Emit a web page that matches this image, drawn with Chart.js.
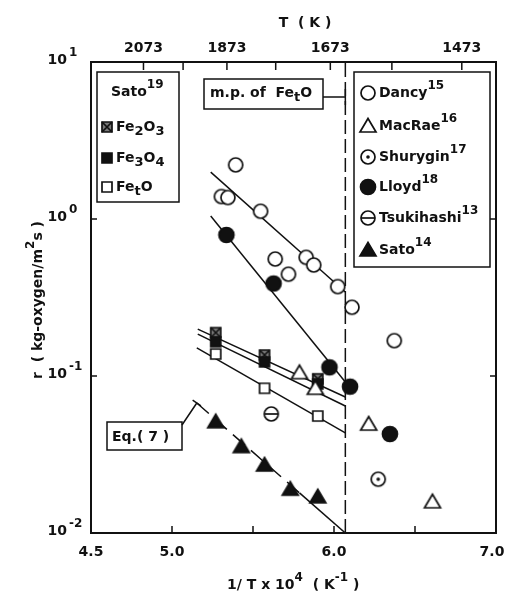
<!DOCTYPE html>
<html>
<head>
<meta charset="utf-8">
<script src="https://cdn.jsdelivr.net/npm/chart.js@4.4.0/dist/chart.umd.min.js"></script>
<style>
  body { margin: 0; background: #fff; }
  #wrap { width: 507px; height: 602px; }
</style>
</head>
<body>
<div id="wrap"><canvas id="grafico"></canvas></div>
<script>
// valores (x = 1/T x 10^4, r em kg-oxygen/m2s)
const dancyX = [5.393, 5.305, 5.345, 5.547, 5.637, 5.719, 5.828, 5.875, 6.023, 6.111, 6.372];
const dancyR = [2.21, 1.39, 1.37, 1.12, 0.556, 0.445, 0.570, 0.509, 0.371, 0.274, 0.168];
const macraeX = [5.787, 5.885, 6.214, 6.608];
const macraeR = [0.105, 0.0835, 0.0494, 0.0158];
const shuryginX = [6.273];
const shuryginR = [0.022];
const lloydX = [5.336, 5.627, 5.972, 6.099, 6.345];
const lloydR = [0.791, 0.388, 0.1135, 0.0855, 0.0427];
const tsukihashiX = [5.613];
const tsukihashiR = [0.0573];
const sato14X = [5.270, 5.428, 5.571, 5.730, 5.900];
const sato14R = [0.0511, 0.0355, 0.0271, 0.0190, 0.0170];

const sato19X = [5.270, 5.571, 5.900];
const fe2o3R = [0.189, 0.136, 0.096];
const fe3o4R = [0.165, 0.123, 0.089];
const fetoR = [0.138, 0.0835, 0.0556];

// retas ajustadas
const dancyFitX = [5.239, 6.070];
const dancyFitR = [1.99, 0.343];
const lloydFitX = [5.239, 6.070];
const lloydFitR = [1.045, 0.0916];
const fe2o3FitX = [5.159, 6.070];
const fe2o3FitR = [0.199, 0.0735];
const fe3o4FitX = [5.159, 6.070];
const fe3o4FitR = [0.185, 0.0644];
const fetoFitX = [5.153, 6.070];
const fetoFitR = [0.151, 0.0434];
const eq7X = [5.153, 5.787];
const eq7R = [0.0673, 0.018];
const eq7ExtX = [5.787, 6.070];
const eq7ExtR = [0.018, 0.01];
const mpX = [6.07, 6.07];
const mpR = [0.01, 10];

// eixos
const xTicks = [5.0, 5.5, 6.0, 6.5];
const xLabels = ["4.5", "5.0", "6.0", "7.0"];
const yTicks = [1, 0.1];
const yLabels = ["1", "0", "-1", "-2"];
const tempTicks = [2073, 1973, 1873, 1773, 1673, 1573, 1473];
const tempLabels = [2073, 1873, 1673, 1473];

const FONTE = '"DejaVu Sans", sans-serif';
const PRETO = "#111";

function desenharMarcador(g, tipo, x, y) {
    g.save();
    g.strokeStyle = PRETO;
    g.fillStyle = "#fff";
    g.lineWidth = 1.7;
    g.beginPath();
    if (tipo.startsWith("circulo")) {
        const r = tipo === "circuloCheio" ? 7.5 : 7;
        g.arc(x, y, r, 0, Math.PI * 2);
    } else if (tipo.startsWith("triangulo")) {
        g.moveTo(x, y - 7.5);
        g.lineTo(x + 8, y + 6);
        g.lineTo(x - 8, y + 6);
        g.closePath();
    } else {
        g.rect(x - 5, y - 5, 10, 10);
    }
    if (tipo.endsWith("Cheio")) g.fillStyle = PRETO;
    if (tipo === "quadradoX") g.fillStyle = "#777";
    g.fill();
    g.stroke();

    g.fillStyle = PRETO;
    if (tipo === "circuloPonto") {
        g.beginPath();
        g.arc(x, y, 1.8, 0, Math.PI * 2);
        g.fill();
    }
    if (tipo === "circuloBarra") {
        g.beginPath();
        g.moveTo(x - 7, y);
        g.lineTo(x + 7, y);
        g.stroke();
    }
    if (tipo === "quadradoX") {
        g.beginPath();
        g.moveTo(x - 5, y - 5); g.lineTo(x + 5, y + 5);
        g.moveTo(x + 5, y - 5); g.lineTo(x - 5, y + 5);
        g.stroke();
    }
    g.restore();
}

function criarMarcador(tipo) {
    const c = document.createElement("canvas");
    c.width = 22;
    c.height = 22;
    desenharMarcador(c.getContext("2d"), tipo, 11, 11);
    return c;
}

const serie = (xs, ys) => xs.map((x, i) => ({ x, y: ys[i] }));

function pontos(label, xs, ys, tipo) {
    return {
        label,
        data: serie(xs, ys),
        pointStyle: criarMarcador(tipo),
        pointRadius: 7,
        pointHoverRadius: 7,
        showLine: false,
        order: 1
    };
}

function reta(label, xs, ys, tracejado) {
    return {
        label,
        data: serie(xs, ys),
        showLine: true,
        borderColor: PRETO,
        borderWidth: 1.5,
        borderDash: tracejado || [],
        pointRadius: 0,
        pointHoverRadius: 0,
        order: 2
    };
}

// texto com sobrescrito / subscrito
function textoRico(ctx, partes, x, y, tam) {
    let cx = x;
    partes.forEach(([t, tipo]) => {
        let dy = 0;
        let f = tam;
        if (tipo === "sup") { dy = -7; f = tam - 2; }
        if (tipo === "sub") { dy = 5; f = tam - 1; }
        ctx.font = "bold " + f + "px " + FONTE;
        ctx.fillText(t, cx, y + dy);
        cx += ctx.measureText(t).width;
    });
    return cx - x;
}

function larguraRica(ctx, partes, tam) {
    let w = 0;
    partes.forEach(([t, tipo]) => {
        let f = tam;
        if (tipo === "sup") f = tam - 2;
        if (tipo === "sub") f = tam - 1;
        ctx.font = "bold " + f + "px " + FONTE;
        w += ctx.measureText(t).width;
    });
    return w;
}

const eixos = {
    id: "eixos",
    afterDraw(chart) {
        const ctx = chart.ctx;
        const { left, right, top, bottom } = chart.chartArea;
        const sx = chart.scales.x, sy = chart.scales.y;
        ctx.save();
        ctx.strokeStyle = PRETO;
        ctx.fillStyle = PRETO;

        ctx.lineWidth = 2;
        ctx.strokeRect(left, top, right - left, bottom - top);

        ctx.lineWidth = 1.5;
        ctx.beginPath();
        xTicks.forEach(v => {
            const p = sx.getPixelForValue(v);
            ctx.moveTo(p, bottom); ctx.lineTo(p, bottom - 7);
        });
        tempTicks.forEach(t => {
            const p = sx.getPixelForValue(1e4 / t);
            ctx.moveTo(p, top); ctx.lineTo(p, top + 8);
        });
        yTicks.forEach(v => {
            const p = sy.getPixelForValue(v);
            ctx.moveTo(left, p); ctx.lineTo(left + 6, p);
            ctx.moveTo(right, p); ctx.lineTo(right - 6, p);
        });
        ctx.stroke();

        ctx.textBaseline = "middle";
        ctx.textAlign = "center";
        ctx.font = "bold 14px " + FONTE;
        xLabels.forEach(l => ctx.fillText(l, Math.min(sx.getPixelForValue(+l), 492), bottom + 19));
        tempLabels.forEach(t => ctx.fillText(String(t), sx.getPixelForValue(1e4 / t), top - 14));

        ctx.textAlign = "left";
        yLabels.forEach(e => {
            const p = sy.getPixelForValue(Math.pow(10, +e)) - 2;
            ctx.font = "bold 14px " + FONTE;
            const w = ctx.measureText("10").width;
            ctx.fillText("10", 67 - w, p);
            ctx.font = "bold 12px " + FONTE;
            ctx.fillText(e, 69, p - 7);
        });

        // titulos
        ctx.textAlign = "center";
        ctx.font = "bold 14px " + FONTE;
        ctx.fillText("T  ( K )", 305, 23);

        ctx.textAlign = "left";
        textoRico(ctx, [["1/ T x 10", "n"], ["4", "sup"], ["  ( K", "n"], ["-1", "sup"], [" )", "n"]], 227, 585, 14);

        ctx.save();
        ctx.translate(38, 300);
        ctx.rotate(-Math.PI / 2);
        const tituloY = [["r  ( kg-oxygen/m", "n"], ["2", "sup"], ["s )", "n"]];
        textoRico(ctx, tituloY, -larguraRica(ctx, tituloY, 14) / 2, 0, 14);
        ctx.restore();

        // legenda Sato19
        ctx.lineWidth = 1.5;
        ctx.fillStyle = "#fff";
        ctx.fillRect(97, 72, 82, 130);
        ctx.strokeRect(97, 72, 82, 130);
        ctx.fillStyle = PRETO;
        textoRico(ctx, [["Sato", "n"], ["19", "sup"]], 111, 92, 14);
        const itensSato19 = [
            ["quadradoX", [["Fe", "n"], ["2", "sub"], ["O", "n"], ["3", "sub"]], 127],
            ["quadradoCheio", [["Fe", "n"], ["3", "sub"], ["O", "n"], ["4", "sub"]], 158],
            ["quadrado", [["Fe", "n"], ["t", "sub"], ["O", "n"]], 187]
        ];
        itensSato19.forEach(([tipo, partes, y]) => {
            desenharMarcador(ctx, tipo, 107, y);
            ctx.fillStyle = PRETO;
            textoRico(ctx, partes, 116, y, 14);
        });

        // legenda direita
        ctx.fillStyle = "#fff";
        ctx.fillRect(354, 72, 136, 195);
        ctx.strokeRect(354, 72, 136, 195);
        const itens = [
            ["circulo", "Dancy", "15", 93],
            ["triangulo", "MacRae", "16", 126],
            ["circuloPonto", "Shurygin", "17", 157],
            ["circuloCheio", "Lloyd", "18", 187],
            ["circuloBarra", "Tsukihashi", "13", 218],
            ["trianguloCheio", "Sato", "14", 250]
        ];
        itens.forEach(([tipo, nome, ref, y]) => {
            desenharMarcador(ctx, tipo, 368, y);
            ctx.fillStyle = PRETO;
            textoRico(ctx, [[nome, "n"], [ref, "sup"]], 379, y, 14);
        });

        // m.p. of FetO
        const xmp = sx.getPixelForValue(mpX[0]);
        ctx.fillStyle = "#fff";
        ctx.fillRect(204, 79, 119, 30);
        ctx.strokeRect(204, 79, 119, 30);
        ctx.fillStyle = PRETO;
        textoRico(ctx, [["m.p. of  Fe", "n"], ["t", "sub"], ["O", "n"]], 210, 93, 14);
        ctx.beginPath();
        ctx.moveTo(323, 97); ctx.lineTo(xmp, 97);
        ctx.moveTo(xmp, 89); ctx.lineTo(xmp, 105);
        ctx.stroke();

        // Eq.(7)
        ctx.fillStyle = "#fff";
        ctx.fillRect(107, 422, 75, 28);
        ctx.strokeRect(107, 422, 75, 28);
        ctx.fillStyle = PRETO;
        ctx.font = "bold 14px " + FONTE;
        ctx.fillText("Eq.( 7 )", 112, 437);
        const ex = sx.getPixelForValue(eq7X[0]), ey = sy.getPixelForValue(eq7R[0]);
        ctx.beginPath();
        ctx.moveTo(182, 425); ctx.lineTo(ex, ey);
        const dx = ex - 182, dy = ey - 425, n = Math.hypot(dx, dy);
        ctx.moveTo(ex - dy / n * 5, ey + dx / n * 5);
        ctx.lineTo(ex + dy / n * 5, ey - dx / n * 5);
        ctx.stroke();

        ctx.restore();
    }
};

new Chart(document.getElementById("grafico"), {
    type: "scatter",
    data: {
        datasets: [
            reta("m.p.", mpX, mpR, [14, 5]),
            reta("Dancy fit", dancyFitX, dancyFitR),
            reta("Lloyd fit", lloydFitX, lloydFitR),
            reta("Fe2O3 fit", fe2o3FitX, fe2o3FitR),
            reta("Fe3O4 fit", fe3o4FitX, fe3o4FitR),
            reta("FetO fit", fetoFitX, fetoFitR),
            reta("Eq.(7)", eq7X, eq7R, [16, 8]),
            reta("Eq.(7) ext", eq7ExtX, eq7ExtR),
            pontos("Dancy", dancyX, dancyR, "circulo"),
            pontos("MacRae", macraeX, macraeR, "triangulo"),
            pontos("Shurygin", shuryginX, shuryginR, "circuloPonto"),
            pontos("Lloyd", lloydX, lloydR, "circuloCheio"),
            pontos("Tsukihashi", tsukihashiX, tsukihashiR, "circuloBarra"),
            pontos("Sato14", sato14X, sato14R, "trianguloCheio"),
            pontos("FetO", sato19X, fetoR, "quadrado"),
            pontos("Fe3O4", sato19X, fe3o4R, "quadradoCheio"),
            pontos("Fe2O3", sato19X, fe2o3R, "quadradoX")
        ]
    },
    options: {
        responsive: true,
        maintainAspectRatio: false,
        animation: false,
        events: [],
        layout: { padding: { left: 91, top: 62, right: 11, bottom: 69 } },
        plugins: {
            legend: { display: false },
            tooltip: { enabled: false }
        },
        scales: {
            x: { type: "linear", min: 4.5, max: 7.0, display: false },
            y: { type: "logarithmic", min: 0.01, max: 10, display: false }
        }
    },
    plugins: [eixos]
});
</script>
</body>
</html>
